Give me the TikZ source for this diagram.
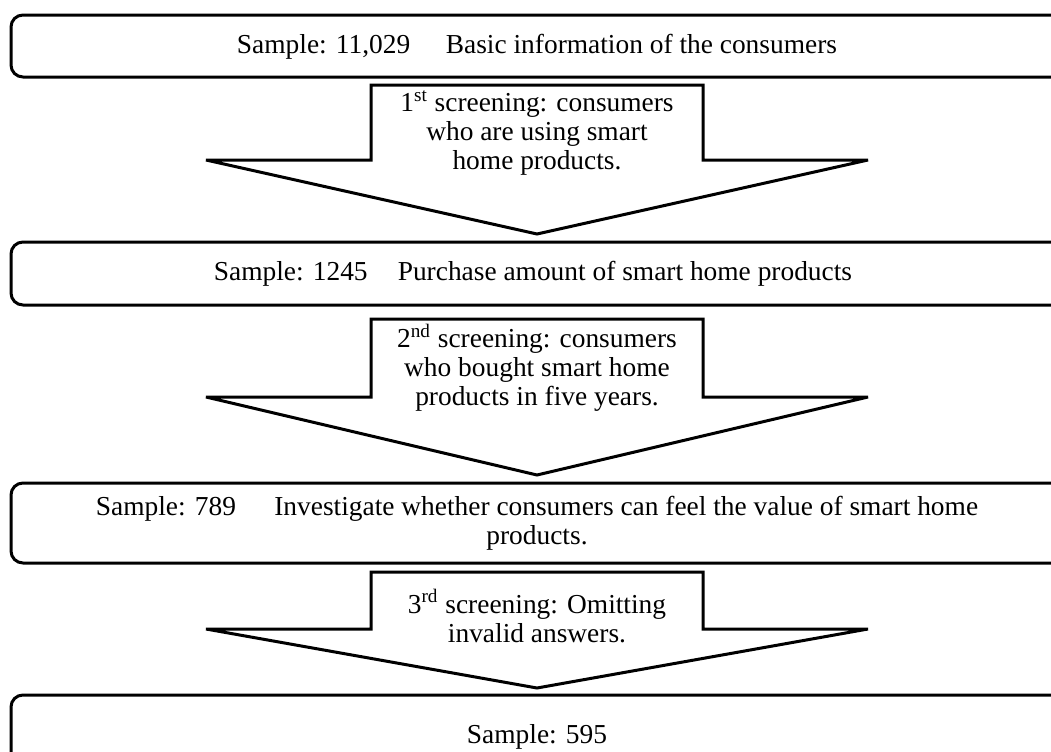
\documentclass[tikz,border=0pt]{standalone}
\usepackage{fontspec}
\setmainfont{Liberation Serif}
\begin{document}
\begin{tikzpicture}[x=0.5pt,y=-0.5pt,
  panel/.style={draw,line width=1.5pt,rounded corners=6pt,fill=white},
  blockarrow/.style={draw,line width=1.5pt,fill=white,line join=miter,miter limit=1.6},
  txt/.style={font=\fontsize{13.7}{14.5}\selectfont,align=center,inner sep=0pt}]
\useasboundingbox (0,0) rectangle (1051,751);
\clip (0,0) rectangle (1051,751);

% stage panels (running past the right edge)
\draw[panel] (11,15) rectangle (1065,77);
\draw[panel] (11,242) rectangle (1065,305);
\draw[panel] (11,483) rectangle (1065,563);
\draw[panel] (11,695) rectangle (1065,800);

\node[txt] (s1) at (537,47) {Sample: 11,029\hspace{1.3em}Basic information of the consumers};
\node[txt] (s2) at (533,274) {Sample: 1245\hspace{1.1em}Purchase amount of smart home products};
\node[txt] (s3) at (537,523) {Sample: 789\hspace{1.4em}Investigate whether consumers can feel the value of smart home\\products.};
\node[txt] (s4) at (537,737) {Sample: 595};

% screening arrows: shaft 371--703, head 206--868, tip at x=537
\newcommand{\screenarrow}[3]{%
  \draw[blockarrow] (371,#1) -- (703,#1) -- (703,#2) -- (868,#2) -- (537,#3)
    -- (206,#2) -- (371,#2) -- cycle;}
\screenarrow{85}{160}{234}
\screenarrow{319}{397}{475}
\screenarrow{572}{629}{688}

\node[txt] (a1) at (537,133) {1\textsuperscript{st} screening: consumers\\who are using smart\\home products.};
\node[txt] (a2) at (537,368) {2\textsuperscript{nd} screening: consumers\\who bought smart home\\products in five years.};
\node[txt] (a3) at (537,616) {3\textsuperscript{rd} screening: Omitting\\invalid answers.};
\end{tikzpicture}
\end{document}
